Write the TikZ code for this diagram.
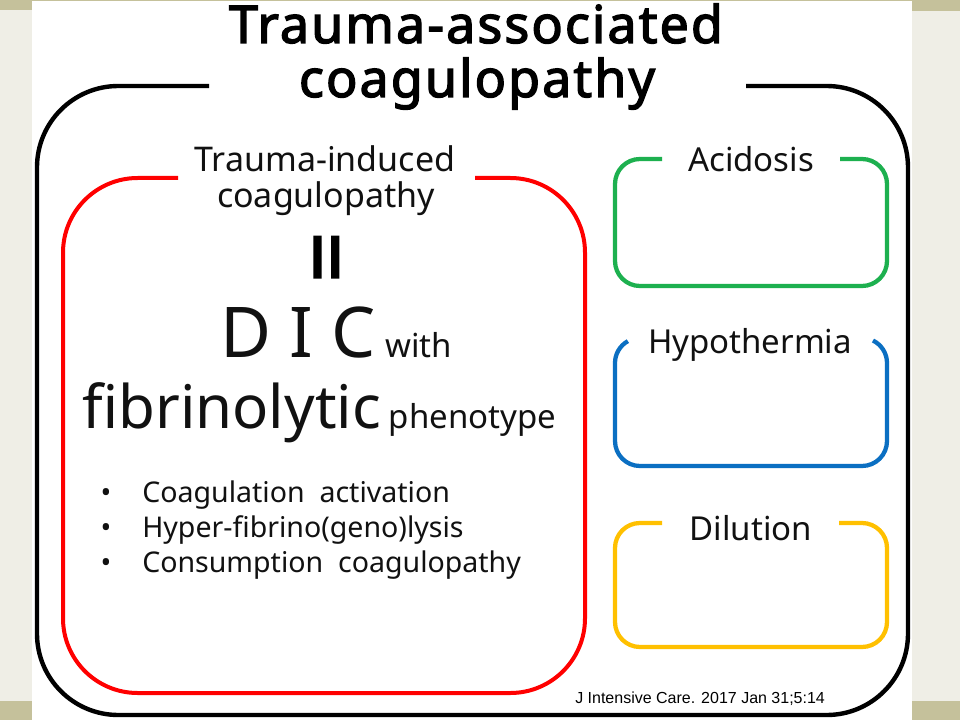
\documentclass[tikz,border=0pt]{standalone}
\usepackage{fontspec}
\setmainfont{Noto Sans}
\newfontfamily\titlefont{Noto Sans}[FakeBold=2.6,LetterSpace=4]
\newfontfamily\barfont{Noto Sans}[FakeBold=2.2]
\newfontfamily\citefont{Liberation Sans}
\definecolor{bgbeige}{HTML}{EFEEE6}
\definecolor{olive}{HTML}{C5C19B}
\definecolor{offgreen}{HTML}{1DB04F}
\definecolor{offblue}{HTML}{0B6FC2}
\definecolor{offgold}{HTML}{FFC000}
\definecolor{ink}{HTML}{111111}
\tikzset{
  outerline/.style={draw=black,line width=3.3pt,rounded corners=61pt},
  redline/.style={draw=red,line width=3pt,rounded corners=56pt},
  smallbox/.style={line width=3.2pt,rounded corners=18.75pt},
  lbl/.style={anchor=base,inner sep=0pt,text=ink},
  bul/.style={anchor=base west,inner sep=0pt,text=ink,font=\fontsize{21.4}{24}\selectfont},
  dot/.style={anchor=base,inner sep=0pt,text=ink,font=\fontsize{21.4}{24}\selectfont},
  boxlbl/.style={anchor=base,inner sep=0pt,text=ink,font=\fontsize{24.75}{28}\selectfont},
  titlelbl/.style={anchor=base,inner sep=0pt,text=black,font=\titlefont\fontsize{39}{44}\selectfont},
}
\begin{document}
\begin{tikzpicture}[x=0.75pt,y=-0.75pt]
\useasboundingbox (0,0) rectangle (960,720);
% background
\fill[bgbeige] (0,0) rectangle (960,720);
\fill[olive] (0,0) rectangle (960,1.5);
\fill[olive] (0,0) rectangle (32,10);
\fill[olive] (912,0) rectangle (960,11);
\fill[olive] (0,701) rectangle (32,720);
\fill[olive] (912,701) rectangle (960,720);
\fill[white] (32,1.5) rectangle (912,720);

% outer box
\draw[outerline] (209,86) -- (37,86) -- (37,715) -- (908,715) -- (908,86) -- (746,86);
\node[titlelbl] (t1) at (476,43) {Trauma-associated};
\node[titlelbl] (t2) at (477,97) {coagulopathy};

% red box
\draw[redline] (178,178) -- (63,178) -- (63,693) -- (585,693) -- (585,178) -- (475,178);
\node[lbl,font=\fontsize{25.5}{28}\selectfont] (r1) at (325,172) {Trauma-induced};
\node[lbl,font=\fontsize{25.5}{28}\selectfont] (r2) at (326,208) {coagulopathy};
\node[inner sep=0pt,rotate=90,text=black,font=\barfont\fontsize{67}{70}\selectfont] (eq) at (336,257) {=};
\node[anchor=base west,inner sep=0pt,text=ink] (dic) at (220,357)
  {{\fontsize{52.5}{56}\selectfont D I C}\hspace{7pt}{\fontsize{24.75}{28}\selectfont with}};
\node[anchor=base west,inner sep=0pt,text=ink] (fib) at (82,428)
  {{\fontsize{45}{50}\selectfont fibrinolytic}\hspace{6pt}{\fontsize{24.75}{28}\selectfont phenotype}};
\node[dot] (d1) at (106,502) {•};
\node[dot] (d2) at (106,537) {•};
\node[dot] (d3) at (106,572) {•};
\node[bul] (b1) at (142,502) {Coagulation\ \ activation};
\node[bul] (b2) at (142,537) {Hyper-fibrino(geno)lysis};
\node[bul] (b3) at (142,572) {Consumption\ \ coagulopathy};

% green box
\draw[smallbox,draw=offgreen] (662,159) -- (615,159) -- (615,286) -- (887,286) -- (887,159) -- (840,159);
\node[boxlbl] (acid) at (751,172) {Acidosis};

% blue box
\draw[line width=3.2pt,draw=offblue] (640,363) ++(241:25) arc[start angle=241,end angle=180,radius=25]
  -- (615,441) arc[start angle=180,end angle=90,radius=25]
  -- (862,466) arc[start angle=90,end angle=0,radius=25]
  -- (887,363) arc[start angle=0,end angle=-64,radius=25];
\node[boxlbl] (hypo) at (750,353) {Hypothermia};

% yellow box
\draw[smallbox,draw=offgold] (662,523) -- (615,523) -- (615,647) -- (887,647) -- (887,523) -- (839,523);
\node[boxlbl] (dil) at (751,540) {Dilution};

% citation
\node[anchor=base west,inner sep=0pt,text=black,font=\citefont\fontsize{12}{14}\selectfont] (cite) at (575,703) {J Intensive Care. 2017 Jan 31;5:14};
\end{tikzpicture}
\end{document}
